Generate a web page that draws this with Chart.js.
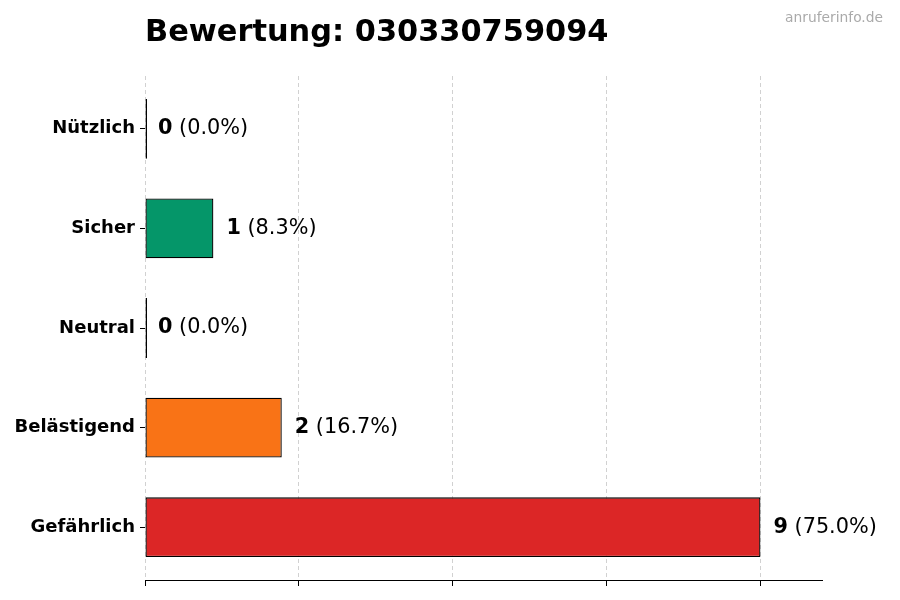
<!DOCTYPE html>
<html>
<head>
<meta charset="utf-8">
<script src="https://cdn.jsdelivr.net/npm/chart.js@4.4.1/dist/chart.umd.min.js"></script>
<style>
  html, body { margin: 0; padding: 0; background: #fff; }
</style>
</head>
<body>
<canvas id="myChart" width="900" height="600"></canvas>
<script>
const categories = ['Nützlich', 'Sicher', 'Neutral', 'Belästigend', 'Gefährlich'];
const counts = [0, 1, 0, 2, 9];
const barColors = ['#222222', '#059669', '#222222', '#f97316', '#dc2626'];
const xTicks = [0, 2.25, 4.5, 6.75, 9];
const xMax = 9.9;
const title = 'Bewertung: 030330759094';
const watermark = 'anruferinfo.de';

const total = counts.reduce((a, b) => a + b, 0);
const FONT = '"DejaVu Sans", sans-serif';

const labelPlugin = {
  id: 'labels',
  afterDatasetsDraw(chart) {
    const ctx = chart.ctx;
    const meta = chart.getDatasetMeta(0);
    ctx.save();
    ctx.textBaseline = 'middle';
    ctx.fillStyle = '#000';
    meta.data.forEach((bar, i) => {
      const pct = total ? (counts[i] / total * 100).toFixed(1) : '0.0';
      const x0 = chart.scales.x.getPixelForValue(counts[i]) + 13;
      ctx.font = 'bold 20.8px ' + FONT;
      const bold = String(counts[i]);
      ctx.fillText(bold, x0, bar.y);
      const w = ctx.measureText(bold).width;
      ctx.font = '20.8px ' + FONT;
      ctx.fillText(' (' + pct + '%)', x0 + w, bar.y);
    });
    ctx.restore();
  },
  afterDraw(chart) {
    const ctx = chart.ctx;
    ctx.save();
    ctx.fillStyle = '#000';
    ctx.font = 'bold 30.4px ' + FONT;
    ctx.textBaseline = 'alphabetic';
    ctx.textAlign = 'left';
    ctx.fillText(title, chart.chartArea.left, 41);
    ctx.fillStyle = '#aaaaaa';
    ctx.font = '13.8px ' + FONT;
    ctx.textAlign = 'right';
    ctx.fillText(watermark, 883, 22);
    ctx.restore();
  }
};

const ctx = document.getElementById('myChart');

new Chart(ctx, {
  type: 'bar',
  data: {
    labels: categories,
    datasets: [{
      data: counts.map((v, i) => ({ x: v, y: i })),
      backgroundColor: barColors,
      borderColor: '#000',
      borderWidth: 1.3,
      borderSkipped: false,
      minBarLength: 2,
      categoryPercentage: 1,
      barPercentage: 0.6
    }]
  },
  options: {
    indexAxis: 'y',
    responsive: false,
    animation: false,
    layout: { padding: { top: 76, right: 78, bottom: 0, left: 0 } },
    plugins: {
      legend: { display: false },
      tooltip: { enabled: false }
    },
    scales: {
      x: {
        type: 'linear',
        min: 0,
        max: xMax,
        afterBuildTicks: (scale) => { scale.ticks = xTicks.map(v => ({ value: v })); },
        afterFit: (scale) => { scale.height = 20; },
        ticks: { display: false },
        grid: {
          color: 'rgba(0,0,0,0.18)',
          lineWidth: 1,
          drawTicks: true,
          tickLength: 6,
          tickColor: '#000',
          tickWidth: 1
        },
        border: { display: true, color: '#000', width: 1, dash: [4, 3] }
      },
      y: {
        type: 'linear',
        reverse: true,
        offset: false,
        min: -0.53,
        max: 4.53,
        afterBuildTicks: (scale) => { scale.ticks = categories.map((_, i) => ({ value: i })); },
        afterFit: (scale) => { scale.width = 145; },
        ticks: {
          callback: (v) => categories[v],
          color: '#000',
          padding: 5,
          font: { family: FONT, size: 18, weight: 'bold' }
        },
        grid: {
          offset: false,
          drawOnChartArea: false,
          drawTicks: true,
          tickLength: 5,
          tickColor: '#000',
          tickWidth: 1
        },
        border: { display: false }
      }
    }
  },
  plugins: [labelPlugin]
});
</script>
</body>
</html>
